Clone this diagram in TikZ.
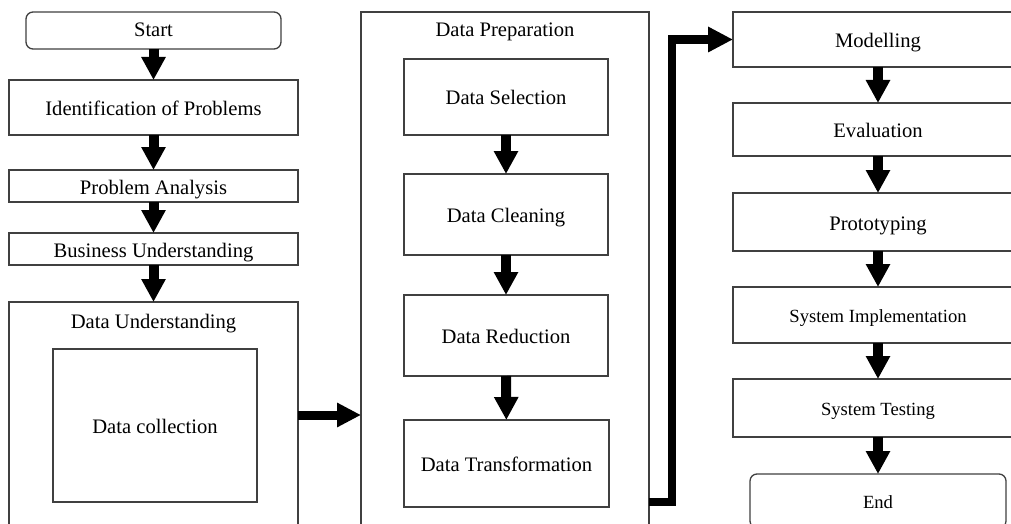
\documentclass[tikz,border=0pt]{standalone}
\usepackage{fontspec}
\setmainfont{Liberation Serif}
\usetikzlibrary{arrows.meta}
\tikzset{
  bx/.style={draw=black!75, line width=1.3pt, inner sep=0pt, outer sep=0pt, align=center,
             font=\fontsize{20.6}{24}\selectfont, text height=18pt, text depth=2pt},
  bxs/.style={bx, font=\fontsize{18.6}{22}\selectfont, text height=17pt, text depth=1.6pt},
  rbx/.style={bx, rounded corners=7pt},
  lbl/.style={inner sep=0pt, anchor=base, font=\fontsize{20.6}{24}\selectfont},
  blk/.style={line width=10pt, -{Triangle[width=23pt,length=23pt]}},
  blkh/.style={line width=9pt, -{Triangle[width=23pt,length=24pt]}},
  elb/.style={line width=8.5pt, line join=miter, -{Triangle[width=24pt,length=25pt]}}
}
\begin{document}
\begin{tikzpicture}[x=1pt,y=-1pt]
\useasboundingbox (0,0) rectangle (1011,524);
\fill[white] (0,0) rectangle (1011,524);
\clip (0,0) rectangle (1011,524);
% left column
\node[rbx, minimum width=255pt, minimum height=37pt, text height=16pt, text depth=3pt] (start) at (153.5,30.5) {Start};
\node[bx, minimum width=289pt, minimum height=55pt] (ident) at (153.5,107.5) {Identification of Problems};
\node[bx, minimum width=289pt, minimum height=32pt] (pa) at (153.5,186) {Problem Analysis};
\node[bx, minimum width=289pt, minimum height=32pt] (bu) at (153.5,249) {Business Understanding};
\node[bx, minimum width=289pt, minimum height=250pt] (du) at (153.5,427) {};
\node[lbl] (dulbl) at (153.5,328) {Data Understanding};
\node[bx, minimum width=204pt, minimum height=153pt] (dc) at (155,425.5) {Data collection};
% middle column
\node[bx, minimum width=288pt, minimum height=540pt] (dp) at (505,282) {};
\node[lbl] (dplbl) at (505,37) {Data Preparation};
\node[bx, minimum width=204pt, minimum height=76pt] (ds) at (506,97) {Data Selection};
\node[bx, minimum width=204pt, minimum height=81pt] (dcl) at (506,214.5) {Data Cleaning};
\node[bx, minimum width=204pt, minimum height=81pt] (dr) at (506,335.5) {Data Reduction};
\node[bx, minimum width=205pt, minimum height=87pt] (dt) at (506.5,463.5) {Data Transformation};
% right column
\node[bx, minimum width=290pt, minimum height=55pt] (mod) at (878,39.5) {Modelling};
\node[bx, minimum width=290pt, minimum height=53pt] (ev) at (878,129.5) {Evaluation};
\node[bx, minimum width=290pt, minimum height=58pt] (pr) at (878,222) {Prototyping};
\node[bxs, minimum width=290pt, minimum height=56pt] (si) at (878,315) {System Implementation};
\node[bxs, minimum width=290pt, minimum height=58pt] (st) at (878,408) {System Testing};
\node[rbx, font=\fontsize{18.6}{22}\selectfont, text height=17pt, text depth=3pt, minimum width=256pt, minimum height=54pt] (end) at (878,501) {End};
% connectors
\draw[blk] (start) -- (ident);
\draw[blk] (ident) -- (pa);
\draw[blk] (pa) -- (bu);
\draw[blk] (bu) -- (du);
\draw[blkh] (du.east |- 0,415) -- (dp.west |- 0,415);
\draw[blk] (ds) -- (dcl);
\draw[blk] (dcl) -- (dr);
\draw[blk] (dr) -- (dt);
\draw[elb] (dp.east |- 0,502) -- (672,502) |- (mod.west);
\draw[blk] (mod) -- (ev);
\draw[blk] (ev) -- (pr);
\draw[blk] (pr) -- (si);
\draw[blk] (si) -- (st);
\draw[blk] (st) -- (end);
\end{tikzpicture}
\end{document}
